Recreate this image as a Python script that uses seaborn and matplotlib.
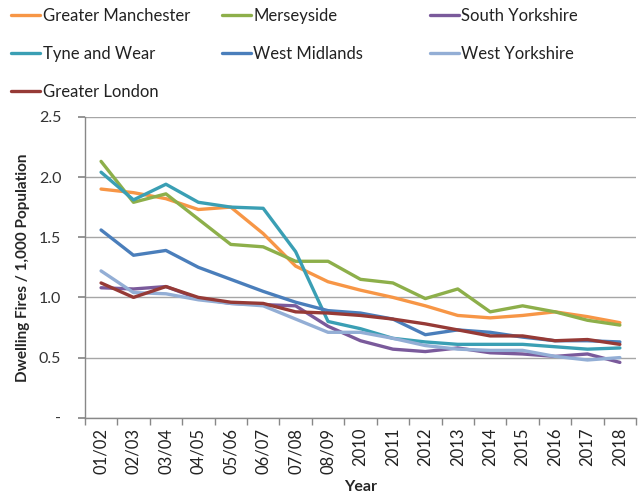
import pandas as pd
import matplotlib
matplotlib.use("Agg")
import matplotlib.pyplot as plt
import seaborn as sns

# 数据：数值
years = ["01/02", "02/03", "03/04", "04/05", "05/06", "06/07", "07/08", "08/09",
         "2010", "2011", "2012", "2013", "2014", "2015", "2016", "2017", "2018"]

greater_manchester = [1.90, 1.87, 1.82, 1.73, 1.75, 1.53, 1.26, 1.13, 1.06, 1.00, 0.93, 0.85, 0.83, 0.85, 0.88, 0.84, 0.79]
merseyside = [2.13, 1.79, 1.86, 1.65, 1.44, 1.42, 1.30, 1.30, 1.15, 1.12, 0.99, 1.07, 0.88, 0.93, 0.88, 0.81, 0.77]
south_yorkshire = [1.08, 1.07, 1.09, 0.99, 0.95, 0.94, 0.93, 0.76, 0.64, 0.57, 0.55, 0.58, 0.54, 0.53, 0.51, 0.53, 0.46]
tyne_and_wear = [2.04, 1.81, 1.94, 1.79, 1.75, 1.74, 1.38, 0.80, 0.74, 0.66, 0.63, 0.61, 0.61, 0.61, 0.59, 0.57, 0.58]
west_midlands = [1.56, 1.35, 1.39, 1.25, 1.15, 1.05, 0.96, 0.89, 0.87, 0.82, 0.69, 0.73, 0.71, 0.67, 0.64, 0.64, 0.63]
west_yorkshire = [1.22, 1.04, 1.03, 0.98, 0.95, 0.93, 0.82, 0.71, 0.71, 0.66, 0.60, 0.57, 0.56, 0.56, 0.51, 0.48, 0.50]
greater_london = [1.12, 1.00, 1.09, 1.00, 0.96, 0.95, 0.88, 0.87, 0.85, 0.82, 0.78, 0.73, 0.68, 0.68, 0.64, 0.65, 0.61]

areas = ["Greater Manchester", "Merseyside", "South Yorkshire", "Tyne and Wear",
         "West Midlands", "West Yorkshire", "Greater London"]
series = [greater_manchester, merseyside, south_yorkshire, tyne_and_wear,
          west_midlands, west_yorkshire, greater_london]
colors = ["#F79646", "#8DAF4A", "#7A5A9B", "#3A9FB4", "#4A7EBB", "#93AED5", "#963A36"]

y_ticks = [0.0, 0.5, 1.0, 1.5, 2.0, 2.5]
y_tick_labels = ["-", "0.5", "1.0", "1.5", "2.0", "2.5"]

rows = []
for name, vals in zip(areas, series):
    for yr, v in zip(years, vals):
        rows.append({"Year": yr, "Value": v, "Area": name})
df = pd.DataFrame(rows)

sns.set_theme(style="white")
plt.rcParams["font.family"] = ["Lato", "DejaVu Sans"]

fig = plt.figure(figsize=(6.38, 4.95), dpi=100)
ax = fig.add_axes([0.133, 0.156, 0.864, 0.608])

sns.lineplot(data=df, x="Year", y="Value", hue="Area", hue_order=areas,
             palette=colors, linewidth=2.4, sort=False, ax=ax, legend=False)

ax.set_xlim(-0.5, len(years) - 0.5)
ax.set_ylim(0, 2.5)
ax.set_yticks(y_ticks)
ax.set_yticklabels(y_tick_labels, fontsize=11.5, color="#333333")
ax.set_xticks(range(len(years)))
ax.set_xticklabels(years, rotation=90, fontsize=12, color="#222222")
ax.tick_params(axis="x", length=0, pad=7)
ax.tick_params(axis="y", length=5, color="#888888", direction="out", left=True, pad=12)

# 类别边界刻度（Excel 风格）
ax.set_xticks([i - 0.5 for i in range(len(years) + 1)], minor=True)
ax.tick_params(axis="x", which="minor", length=5, color="#888888", direction="out", bottom=True)

ax.grid(axis="y", color="#A6A6A6", linewidth=1)
ax.set_axisbelow(True)
for s in ["top", "right"]:
    ax.spines[s].set_visible(False)
for s in ["left", "bottom"]:
    ax.spines[s].set_color("#888888")
    ax.spines[s].set_linewidth(1)

ax.set_xlabel("Year", fontsize=11.5, fontweight="bold", labelpad=5)
ax.set_ylabel("Dwelling Fires / 1,000 Population", fontsize=11, fontweight="bold", labelpad=6)

# 图例：三列，每列单独定位
lines = ax.get_lines()[:len(areas)]
col_x = [0.012, 0.342, 0.668]
groups = [[0, 3, 6], [1, 4], [2, 5]]
for cx, idx in zip(col_x, groups):
    leg = fig.legend([lines[i] for i in idx], [areas[i] for i in idx],
                     loc="upper left", bbox_to_anchor=(cx, 0.99), frameon=False,
                     fontsize=12, handlelength=1.75, handletextpad=0.15,
                     labelspacing=1.3, borderaxespad=0, borderpad=0.2)
    for t in leg.get_texts():
        t.set_color("#222222")

fig.savefig("out.png", dpi=100)
